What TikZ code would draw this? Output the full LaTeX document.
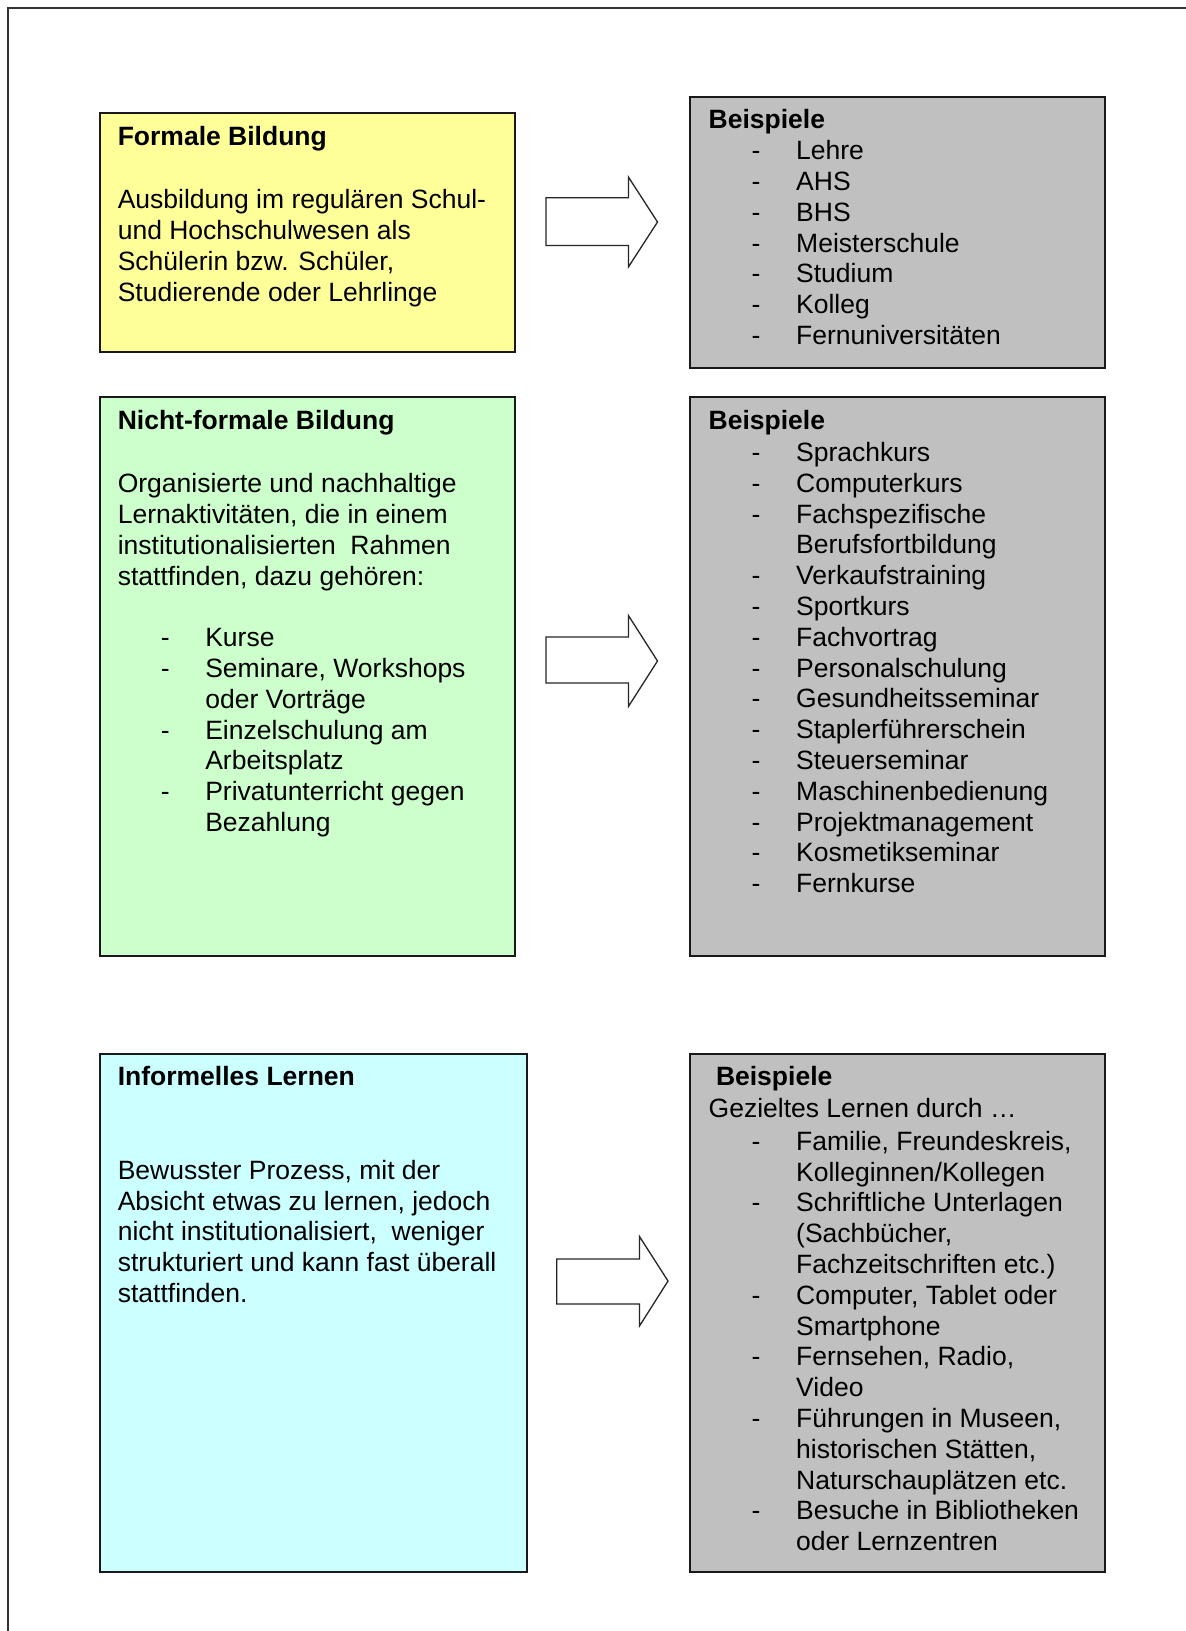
\documentclass[tikz,border=0pt]{standalone}
\usepackage{fontspec}
\setmainfont{Liberation Sans}
\definecolor{yel}{HTML}{FFFF99}
\definecolor{grn}{HTML}{CCFFCC}
\definecolor{cyn}{HTML}{CCFFFF}
\definecolor{gry}{HTML}{C0C0C0}
\newcommand\D[1]{\makebox[87.5pt][l]{\hspace*{43pt}-}#1}
\newcommand\C[1]{\hspace*{87.5pt}#1}
\newcommand\tb[2]{\parbox[t]{#1}{\raggedright #2}}
\begin{document}
\begin{tikzpicture}[x=1pt,y=-1pt,
  box/.style={draw=black!90, line width=1.9pt, rectangle, anchor=north west, inner sep=0pt},
  txt/.style={anchor=base west, inner sep=0pt, font=\fontsize{26.5}{30.8}\selectfont},
  blockarrow/.style={draw=black!85, fill=white, line width=1.3pt, line join=miter}]
\useasboundingbox (0,0) rectangle (1186,1631);
\fill[white] (0,0) rectangle (1186,1631);
\draw[line width=1.9pt, black!80] (8.3,1640) -- (8.3,8.3) -- (1190,8.3);

% boxes
\node[box, fill=yel, minimum width=415.2pt, minimum height=238.2pt] (formal) at (98.8,112.4) {};
\node[box, fill=gry, minimum width=415.1pt, minimum height=271.6pt] (bsp1) at (688.8,95.7) {};
\node[box, fill=grn, minimum width=415.2pt, minimum height=558.6pt] (nichtformal) at (98.8,396.4) {};
\node[box, fill=gry, minimum width=415.1pt, minimum height=558.6pt] (bsp2) at (688.8,396.4) {};
\node[box, fill=cyn, minimum width=427.6pt, minimum height=518.1pt] (informell) at (98.8,1052.9) {};
\node[box, fill=gry, minimum width=415.1pt, minimum height=518.1pt] (bsp3) at (688.8,1052.9) {};

% block arrows
\draw[blockarrow] (546,197.7) -- (628.4,197.7) -- (628.4,177) -- (657.5,222) -- (628.4,267) -- (628.4,245.5) -- (546,245.5) -- cycle;
\draw[blockarrow] (546,637) -- (628.4,637) -- (628.4,615.5) -- (657.5,661) -- (628.4,706.5) -- (628.4,683) -- (546,683) -- cycle;
\draw[blockarrow] (556.8,1259) -- (639.5,1259) -- (639.5,1236.5) -- (668,1281) -- (639.5,1326) -- (639.5,1304) -- (556.8,1304) -- cycle;

% texts: formale Bildung
\node[txt] (formalH) at (117.6,145.1) {\textbf{Formale Bildung}};
\node[txt] (formalT) at (117.6,208.6) {\tb{390pt}{Ausbildung im regulären Schul-\\und Hochschulwesen als\\Schülerin bzw. Schüler,\\Studierende oder Lehrlinge}};
\node[txt] (bsp1T) at (708.5,128.5) {\tb{390pt}{\textbf{Beispiele}\\[0.4pt]\D{Lehre}\\\D{AHS}\\\D{BHS}\\\D{Meisterschule}\\\D{Studium}\\\D{Kolleg}\\\D{Fernuniversitäten}}};

% nicht-formale Bildung
\node[txt] (nfH) at (117.6,429.2) {\textbf{Nicht-formale Bildung}};
\node[txt] (nfT) at (117.6,492.6) {\tb{390pt}{Organisierte und nachhaltige\\Lernaktivitäten, die in einem\\institutionalisierten\ \ Rahmen\\stattfinden, dazu gehören:\\[30.8pt]\D{Kurse}\\\D{Seminare, Workshops}\\\C{oder Vorträge}\\\D{Einzelschulung am}\\\C{Arbeitsplatz}\\\D{Privatunterricht gegen}\\\C{Bezahlung}}};
\node[txt] (bsp2H) at (708.5,429.2) {\textbf{Beispiele}};
\node[txt] (bsp2T) at (708.5,461.4) {\tb{390pt}{\D{Sprachkurs}\\\D{Computerkurs}\\\D{Fachspezifische}\\\C{Berufsfortbildung}\\\D{Verkaufstraining}\\\D{Sportkurs}\\\D{Fachvortrag}\\\D{Personalschulung}\\\D{Gesundheitsseminar}\\\D{Staplerführerschein}\\\D{Steuerseminar}\\\D{Maschinenbedienung}\\\D{Projektmanagement}\\\D{Kosmetikseminar}\\\D{Fernkurse}}};

% informelles Lernen
\node[txt] (infH) at (117.6,1085.6) {\textbf{Informelles Lernen}};
\node[txt] (infT) at (117.6,1179.3) {\tb{400pt}{Bewusster Prozess, mit der\\Absicht etwas zu lernen, jedoch\\nicht institutionalisiert,\ \ weniger\\strukturiert und kann fast überall\\stattfinden.}};
\node[txt] (bsp3H) at (715.8,1085.6) {\textbf{Beispiele}};
\node[txt] (bsp3T) at (708.5,1117.9) {\tb{390pt}{Gezieltes Lernen durch …\\[1.5pt]\D{Familie, Freundeskreis,}\\\C{Kolleginnen/Kollegen}\\\D{Schriftliche Unterlagen}\\\C{(Sachbücher,}\\\C{Fachzeitschriften etc.)}\\\D{Computer, Tablet oder}\\\C{Smartphone}\\\D{Fernsehen, Radio,}\\\C{Video}\\\D{Führungen in Museen,}\\\C{historischen Stätten,}\\\C{Naturschauplätzen etc.}\\\D{Besuche in Bibliotheken}\\\C{oder Lernzentren}}};
\end{tikzpicture}
\end{document}
